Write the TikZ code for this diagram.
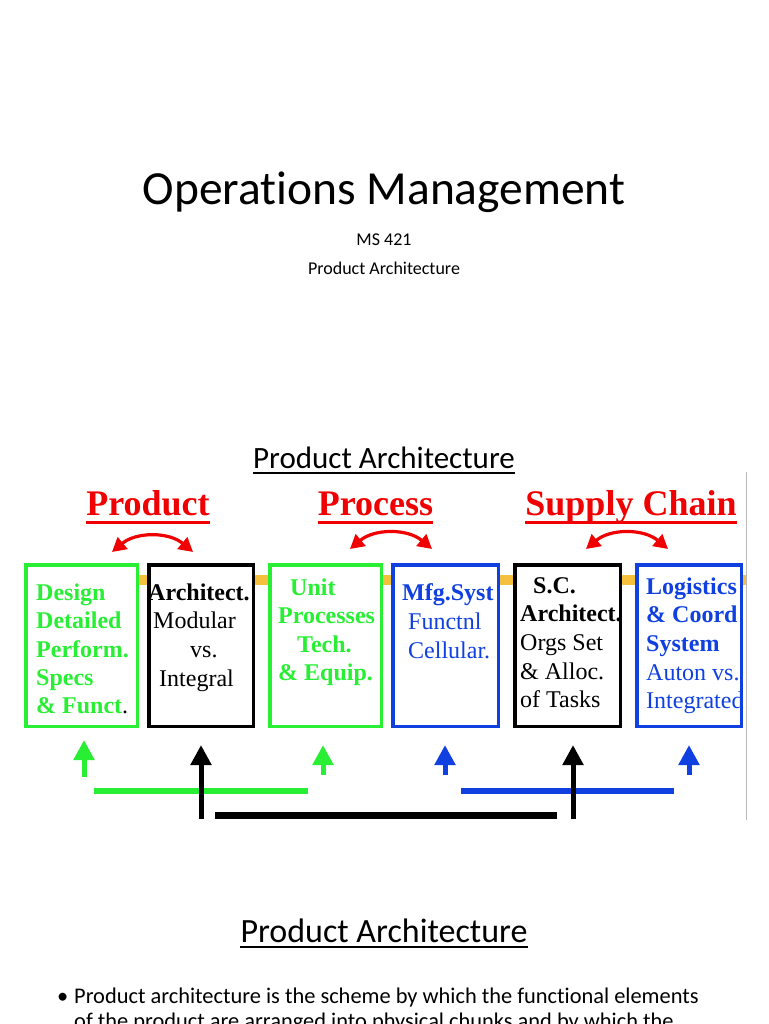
\documentclass[tikz,border=0pt]{standalone}
\usepackage{fontspec}
\setmainfont{Liberation Serif}
\newfontfamily\calibri[Ligatures=NoCommon]{Carlito}
\usetikzlibrary{arrows.meta}

\definecolor{verde}{RGB}{40,238,52}
\definecolor{blu}{RGB}{16,64,224}
\definecolor{rosso}{RGB}{240,0,0}
\definecolor{giallo}{RGB}{245,192,60}
\definecolor{bordo}{RGB}{185,185,185}

\begin{document}
\begin{tikzpicture}[
			x=1pt, y=-1pt,
			scatola/.style={rectangle, draw, fill=white, line width=3.5pt, inner sep=0pt, minimum width=#1, minimum height=161.5pt},
			riga/.style={anchor=base west, inner sep=0pt, font=\fontsize{24}{24}\selectfont},
			rigab/.style={anchor=base west, inner sep=0pt, font=\fontsize{24}{24}\selectfont\bfseries},
			titolo/.style={anchor=base, inner sep=0pt, text=rosso, font=\fontsize{36}{36}\selectfont\bfseries},
			sottolin/.style={line width=#1, line cap=butt},
			doppia/.style={draw=rosso, line width=3.2pt, {Triangle[length=14pt,width=15pt]}-{Triangle[length=14pt,width=15pt]}},
			freccia/.style={line width=5pt, -{Triangle[length=20pt,width=20pt]}},
			barra/.style={line width=6pt, line cap=butt},
			testo/.style={inner sep=0pt, font=\calibri},
			]
			
			\useasboundingbox (0,0) rectangle (768,1024);
			\clip (0,0) rectangle (768,1024);
			\fill[white] (0,0) rectangle (768,1024);
			
			%% =========================================================
			%% pagina 1: titolo
			%% =========================================================
			\node[testo, anchor=base, font=\calibri\fontsize{47.5}{47.5}\selectfont] (om) at (384,205) {Operations Management};
			\node[testo, anchor=base, font=\calibri\fontsize{18}{18}\selectfont] (ms) at (384,245) {MS 421};
			\node[testo, anchor=base, font=\calibri\fontsize{18}{18}\selectfont] (pa) at (384,274) {Product Architecture};
			
			%% =========================================================
			%% pagina 2: schema prodotto / processo / supply chain
			%% =========================================================
			\node[testo, anchor=base, font=\calibri\fontsize{31}{31}\selectfont] (pa2) at (384,468) {Product Architecture};
			\draw[sottolin=1.8pt] ([yshift=-5pt]pa2.base west)--([yshift=-5pt]pa2.base east);
			
			%% bordo dell'immagine
			\coordinate (e1) at (746,472);
			\coordinate (e2) at (746,820);
			\draw[bordo, line width=1pt] (e1)--(e2);
			
			%% intestazioni rosse
			\node[titolo] (tprod) at (148,515) {Product};
			\node[titolo] (tproc) at (375.5,515) {Process};
			\node[titolo] (tsupp) at (631,515) {Supply Chain};
			\foreach \t in {tprod,tproc,tsupp}
			\draw[rosso, sottolin=3pt] ([yshift=-7pt]\t.base west)--([yshift=-7pt]\t.base east);
			
			%% frecce doppie curve
			\foreach \n/\xa/\xb/\yy in {p/112/193/552, q/350/432/549, s/586/668/549}{
				\coordinate (\n a) at (\xa,\yy);
				\coordinate (\n b) at (\xb,\yy);
				\draw[doppia] (\n a) to[bend left=40] (\n b);}
			
			%% nastro giallo dietro le scatole
			\coordinate (ga) at (139,580);
			\coordinate (gb) at (746,580);
			\draw[giallo, line width=10pt] (ga)--(gb);
			
			%% scatole
			\node[scatola=111.5pt, draw=verde] (b1) at (81.5,645.5) {};
			\node[scatola=104.5pt, draw=black] (b2) at (201,645.5) {};
			\node[scatola=111.5pt, draw=verde] (b3) at (325.5,645.5) {};
			\node[scatola=105.5pt, draw=blu] (b4) at (445.5,645.5) {};
			\node[scatola=105.5pt, draw=black] (b5) at (567.5,645.5) {};
			\node[scatola=104.5pt, draw=blu] (b6) at (689,645.5) {};
			
			%% testi: scatola 1
			\node[rigab, text=verde] (b1r1) at (36,600) {Design};
			\node[rigab, text=verde] (b1r2) at (36,628) {Detailed};
			\node[rigab, text=verde] (b1r3) at (36,657) {Perform.};
			\node[rigab, text=verde] (b1r4) at (36,685) {Specs};
			\node[rigab, text=verde] (b1r5) at (36,713) {\& Funct\textcolor{black}{\mdseries .}};
			%% testi: scatola 2
			\node[rigab] (b2r1) at (148,600) {Architect.};
			\node[riga] (b2r2) at (153,628) {Modular};
			\node[riga] (b2r3) at (190,657) {vs.};
			\node[riga] (b2r4) at (159,686) {Integral};
			%% testi: scatola 3
			\node[rigab, text=verde] (b3r1) at (290,595) {Unit};
			\node[rigab, text=verde] (b3r2) at (278,623) {Processes};
			\node[rigab, text=verde] (b3r3) at (297,652) {Tech.};
			\node[rigab, text=verde] (b3r4) at (278,680) {\& Equip.};
			%% testi: scatola 4
			\node[rigab, text=blu] (b4r1) at (402,600) {Mfg.Syst};
			\node[riga, text=blu] (b4r2) at (408,629) {Functnl};
			\node[riga, text=blu] (b4r3) at (408,658) {Cellular.};
			%% testi: scatola 5
			\node[rigab] (b5r1) at (533,593) {S.C.};
			\node[rigab] (b5r2) at (520,621) {Architect.};
			\node[riga] (b5r3) at (520,650) {Orgs Set};
			\node[riga] (b5r4) at (520,679) {\& Alloc.};
			\node[riga] (b5r5) at (520,707) {of Tasks};
			%% testi: scatola 6
			\node[rigab, text=blu] (b6r1) at (646,594) {Logistics};
			\node[rigab, text=blu] (b6r2) at (646,622) {\& Coord};
			\node[rigab, text=blu] (b6r3) at (646,651) {System};
			\node[riga, text=blu] (b6r4) at (646,680) {Auton vs.};
			\node[riga, text=blu] (b6r5) at (646,708) {Integrated};
			
			%% barre orizzontali
			\coordinate (va) at (94,791);  \coordinate (vb) at (308,791);
			\coordinate (ua) at (461,791); \coordinate (ub) at (674,791);
			\coordinate (na) at (215,815); \coordinate (nb) at (557,815);
			\draw[barra, verde] (va)--(vb);
			\draw[barra, blu] (ua)--(ub);
			\draw[barra, black, line width=7pt] (na)--(nb);
			
			%% frecce verso le scatole
			\foreach \n/\x/\ya/\yb/\c in {f1/84/777/740/verde, f2/201/819/745/black,
				f3/323/775/745/verde, f4/445/775/745/blu, f5/573/819/745/black, f6/689/775/745/blu}{
				\coordinate (\n a) at (\x,\ya);
				\coordinate (\n b) at (\x,\yb);
				\draw[freccia, draw=\c] (\n a)--(\n b);}
			
			%% =========================================================
			%% pagina 3: inizio del testo
			%% =========================================================
			\node[testo, anchor=base, font=\calibri\fontsize{34}{34}\selectfont] (pa3) at (384,942) {Product Architecture};
			\draw[sottolin=2pt] ([yshift=-5pt]pa3.base west)--([yshift=-5pt]pa3.base east);
			\node[testo, anchor=base west, font=\calibri\fontsize{22.4}{22.4}\selectfont] (pt) at (57,1003) {•};
			\node[testo, anchor=base west, font=\calibri\fontsize{22.4}{22.4}\selectfont] (r1) at (74,1003) {Product architecture is the scheme by which the functional elements};
			\node[testo, anchor=base west, font=\calibri\fontsize{22.4}{22.4}\selectfont] (r2) at (74,1028) {of the product are arranged into physical chunks and by which the};
			
	\end{tikzpicture}
\end{document}
